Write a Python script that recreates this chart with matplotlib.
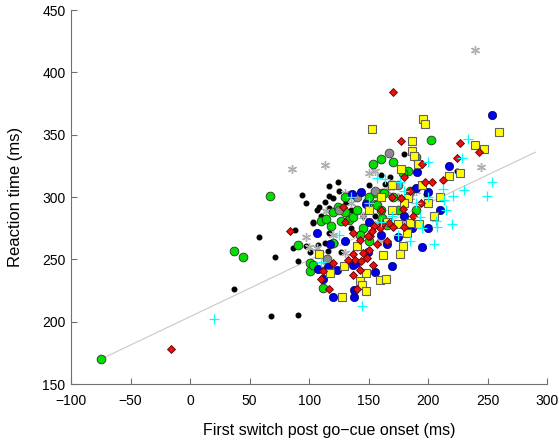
import numpy as np
import matplotlib
matplotlib.use('Agg')
import matplotlib.pyplot as plt

plt.rcParams['font.family'] = ['Liberation Sans', 'DejaVu Sans']

# (x, y) pairs per group
black_dots = [(37, 226), (57.5, 267.7), (71.7, 251.6), (67.9, 204.3), (90.4, 205.1),
              (88.5, 273.5), (86.8, 259.3), (90.7, 248.9), (94, 302), (97, 295.4),
              (100.8, 255.6), (97.4, 261), (103.5, 278.9), (106.9, 289.3), (109.8, 284.7),
              (113.6, 296), (117, 301), (117, 309.3), (124, 312), (117, 291.4),
              (111, 284), (120.4, 299.6), (113.4, 263.3), (116.2, 256.9), (107.8, 261.5),
              (121.8, 262.8), (126.6, 256), (117, 271.4), (103.5, 280.2), (110.9, 282.6),
              (128, 280), (135, 290), (140, 300), (145, 285), (150, 310),
              (160, 318), (168, 316), (175, 300), (135, 275), (155, 285),
              (224, 320.8), (179.5, 334.2), (198, 302.2), (163.5, 310.4),
              (125, 305), (131, 296), (108, 292)]

gray_stars = [(239.4, 418), (244.2, 324.3), (86, 322.7), (113.6, 325.4), (150.6, 319),
              (155.4, 321.1), (130.2, 303.3), (114.2, 288.7), (127.4, 288.7), (97.4, 267.7),
              (100.2, 260.1), (106.4, 258.8), (114.2, 245.4), (156.8, 278.9), (120, 270),
              (135, 295), (145, 285), (150, 300), (165, 305), (175, 300),
              (185, 300), (140, 260), (160, 265), (130, 255), (170, 290),
              (180, 280), (190, 305)]

green_circles = [(-75, 170), (37, 257), (44.5, 251.6), (67.4, 300.8), (90.5, 261.5),
                 (100.5, 247), (100.5, 241), (103.5, 245.4), (111.5, 227.3), (110, 280.7),
                 (114.2, 282.3), (120.4, 288.2), (126.6, 280.7), (133.8, 281.5), (130.2, 288.2),
                 (124.6, 292.2), (119.8, 263.6), (137.2, 284.2), (148.4, 296.2), (156, 294.1),
                 (155.4, 303.7), (161.3, 303), (156.8, 293.6), (153.9, 326.2), (160.5, 330.7),
                 (170.5, 328), (183.4, 321.1), (179.2, 319), (202.7, 345.5), (189.9, 332.3),
                 (170.8, 309.4), (163, 303), (170.8, 300.2), (161, 283), (145, 275),
                 (150, 265), (140, 290), (175, 290), (185, 305), (160, 290),
                 (165, 278), (130, 300), (118, 277), (143, 270), (190, 290), (150, 300)]

gray_circles = [(167, 335), (140, 300), (125, 290), (155, 305), (115, 250), (175, 310)]

blue_circles = [(253.5, 365.8), (217.6, 325.1), (190.9, 320.1), (189.9, 307), (200.2, 304.3),
                (106.9, 270.9), (117.6, 262.3), (107.8, 242.1), (123.7, 241.4), (120, 220),
                (137.5, 220), (137.2, 245.4), (149.8, 256.1), (147.6, 294.4), (135.8, 302.8),
                (143.4, 304.5), (160, 270), (165, 262), (175, 268), (186.2, 274.9),
                (170, 245), (155, 240), (195, 260), (180, 285), (210, 290),
                (150, 280), (130, 265), (200, 275), (116.2, 244.1), (111.5, 234),
                (137.8, 225.4), (139.5, 247.3)]

yellow_squares = [(153, 354.3), (196, 362.3), (197.4, 358.3), (259.6, 352.4), (239.7, 341.7),
                  (247, 339), (186.8, 345.2), (186.8, 336.9), (188.4, 332.9), (177, 322.4),
                  (191.8, 326.4), (217.6, 317.1), (226.8, 319), (183.4, 299), (200.2, 295.4),
                  (192.6, 278.1), (175, 278.1), (179.8, 295), (178.7, 260.7), (176.4, 254.3),
                  (162.4, 253.5), (159.6, 233.4), (164.4, 234.2), (147.6, 239.3), (142.8, 232.9),
                  (144.5, 229.2), (147.8, 224.8), (127.4, 220), (117.6, 238.8), (129.5, 244.5),
                  (140, 260.7), (182, 270.9), (184.8, 278.9), (108.4, 254.5), (160, 300),
                  (170, 290), (165, 280), (150, 290), (205, 285), (210, 300),
                  (195, 310), (170, 310)]

red_diamonds = [(-16, 178), (84, 272.5), (170.5, 384), (177, 345.2), (226.8, 343.6),
                (243, 336.6), (224, 331.5), (194.6, 326.2), (179.5, 316.3), (197.4, 312.3),
                (203.6, 311.8), (212.8, 313.4), (177, 299), (194.3, 295.4), (179.2, 290.4),
                (187, 285), (180, 276.2), (154.6, 276.7), (161, 278.3), (167.2, 278.9),
                (151, 268.7), (156.8, 262), (150.6, 257.2), (145.6, 254.8), (137.2, 254),
                (138.9, 249.4), (143.9, 248.9), (154, 245.4), (120.4, 247.3), (111.5, 240.9),
                (142.8, 241.4), (140.6, 226.2), (116.5, 226.2), (109.8, 234.2), (137.2, 237.2),
                (133, 249.5), (148.4, 250.8), (149.8, 268.7), (153, 273), (142.8, 266),
                (136.7, 270.9), (128.3, 292.2), (159.6, 274.9), (170.8, 276.2), (160, 290),
                (170, 300), (185, 305), (130, 280), (165, 265)]

cyan_plus = [(20.4, 202.4), (233.3, 346.3), (228.3, 331.5), (200.2, 328.3), (253.5, 312.3),
             (249.8, 300.8), (220.7, 300.8), (213.4, 297.6), (212.8, 306.4), (207.2, 276.2),
             (220.4, 278.3), (193.2, 284.2), (163.8, 314.2), (156.8, 315), (176.4, 312.3),
             (205, 262), (206.7, 281), (230, 305.6), (144.2, 212.8), (110, 248.1),
             (125, 269.5), (190, 295), (180, 305), (170, 285), (185, 265),
             (195, 275), (175, 270), (160, 280), (150, 295), (200, 300),
             (215, 290), (135, 300)]

# least-squares line
fit_slope = 0.455
fit_intercept = 204.1
fit_x_range = (-75, 290)

fig = plt.figure(figsize=(5.59, 4.41), dpi=100)
ax = fig.add_axes([0.127, 0.129, 0.852, 0.848])

fx = np.array(fit_x_range)
ax.plot(fx, fit_intercept + fit_slope * fx, color='#c8c8c8', lw=0.8, zorder=1)


def scatter(pts, **kw):
    x, y = zip(*pts)
    ax.plot(x, y, linestyle='none', **kw)


scatter(black_dots, marker='o', ms=3.3, mfc='black', mec='black', zorder=2)
scatter(gray_stars, marker=(6, 2, 0), ms=6.5, color='#b0b0b0', mew=1.0, zorder=2)
scatter(green_circles, marker='o', ms=6.3, mfc='#00e000', mec='#303030', mew=0.6, zorder=3)
scatter(gray_circles, marker='o', ms=6.3, mfc='#8c8c8c', mec='#404040', mew=0.6, zorder=3)
scatter(blue_circles, marker='o', ms=6.0, mfc='#0000e8', mec='#000060', mew=0.5, zorder=3)
scatter(yellow_squares, marker='s', ms=6.0, mfc='#ffff00', mec='#606060', mew=0.8, zorder=4)
scatter(red_diamonds, marker='D', ms=4.2, mfc='#e81010', mec='#600000', mew=0.6, zorder=5)
scatter(cyan_plus, marker='+', ms=7, color='#00ffff', mew=0.9, zorder=6)

ax.set_xlim(-100, 300)
ax.set_ylim(150, 450)
ax.set_xticks(np.arange(-100, 301, 50))
ax.set_yticks(np.arange(150, 451, 50))
for s in ['top', 'right']:
    ax.spines[s].set_visible(False)
for s in ['left', 'bottom']:
    ax.spines[s].set_color('#707070')
    ax.spines[s].set_linewidth(0.8)
ax.tick_params(direction='in', length=4, color='#707070', labelsize=10)
ax.tick_params(axis='x', pad=7)
ax.tick_params(axis='y', pad=4)

ax.set_xlabel('First switch post go\u2212cue onset (ms)', fontsize=11.5)
ax.xaxis.set_label_coords(0.542, -0.104)
ax.set_ylabel('Reaction time (ms)', fontsize=12)
ax.yaxis.set_label_coords(-0.1, 0.5)

fig.savefig('out.png', dpi=100)
